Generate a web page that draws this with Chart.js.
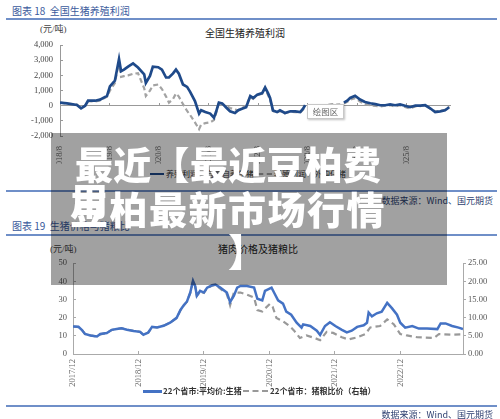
<!DOCTYPE html>
<html>
<head>
<meta charset="utf-8">
<script src="https://cdn.jsdelivr.net/npm/chart.js@4.4.1/dist/chart.umd.min.js"></script>
<style>
body{margin:0;width:500px;height:419px;background:#fff;position:relative;overflow:hidden;font-family:"Noto Sans CJK SC",sans-serif}
.abs{position:absolute;white-space:nowrap;line-height:1}
.hdr{left:12px;font-size:10px;color:#3a5a9c}
.rule{position:absolute;left:6px;width:491px;height:2px;background:#6f8fc8}
.src{right:7px;font-size:9px;color:#2d3f70}
.ttl{font-size:10px;color:#222}
.unit{font-family:"Liberation Serif","Noto Sans CJK SC",serif;font-size:9px;color:#444}
.leg{font-size:8px;color:#333}
canvas{position:absolute;left:0}
#cover{position:absolute;left:51px;top:133px;width:396px;height:152px;background:rgba(0,0,0,0.37)}
.big{position:absolute;white-space:nowrap;color:#fff;font-weight:900;font-size:38px;line-height:38px}
#box{position:absolute;left:307px;top:104px;width:35px;height:13px;background:#fff;border:1px solid #c8c8c8;box-shadow:1px 1px 2px rgba(0,0,0,0.25);font-size:8.5px;color:#666;text-align:center;line-height:13px}
</style>
</head>
<body>
<div class="abs hdr" style="top:6px">图表 18&nbsp; 全国生猪养殖利润</div>
<div class="rule" style="top:18px"></div>
<div class="abs ttl" style="left:205px;top:28px">全国生猪养殖利润</div>
<div class="abs unit" style="left:40px;top:25px">(元/吨)</div>
<canvas id="c1" width="500" height="134" style="top:30px"></canvas>
<div id="box">绘图区</div>
<div class="abs" style="left:150px;top:173px;width:14px;height:2px;background:#1f4a8a"></div>
<div class="abs leg" style="left:166px;top:170px">养殖利润：自繁自养生猪</div>
<div class="abs" style="left:258px;top:173px;width:14px;border-top:2px dashed #a3a3a3"></div>
<div class="abs leg" style="left:274px;top:170px">养殖利润：外购仔猪</div>
<div class="rule" style="top:190px"></div>
<div class="abs src" style="top:196px">数据来源：Wind、国元期货</div>

<div class="abs hdr" style="top:221px">图表 19&nbsp; 生猪价格与猪粮比</div>
<div class="rule" style="top:234px"></div>
<div class="abs ttl" style="left:218px;top:244px">猪肉价格及猪粮比</div>
<div class="abs unit" style="left:50px;top:245px">(元/吨)</div>
<canvas id="c2" width="500" height="143" style="top:249px"></canvas>
<div class="abs" style="left:143px;top:390px;width:19px;height:2.5px;background:#4472c4"></div>
<div class="abs leg" style="left:163px;top:387px;font-weight:700">22个省市:平均价:生猪</div>
<div class="abs" style="left:243px;top:390px;width:25px;border-top:2px dashed #999"></div>
<div class="abs leg" style="left:270px;top:387px;font-weight:700">22个省市：猪粮比价（右轴）</div>
<div class="rule" style="top:405px"></div>
<div class="abs src" style="top:410px">数据来源：Wind、国元期货</div>

<div id="cover">
  <div class="big" style="left:24px;top:11px;letter-spacing:0.3px">最近【最近豆柏费</div>
  <div class="big" style="left:19px;top:56px;letter-spacing:1.5px"><span style="position:relative">豆<span style="position:absolute;left:0;top:0">用</span></span>柏最新市场行情</div>
  <div class="big" style="left:177px;top:98px">】</div>
</div>

<script>
// 图表18：全国生猪养殖利润（元/吨），x 为自 2018/8 起的月数
const profitTicks = ['2018/8', '2019/8', '2020/8', '2021/8', '2022/8', '2023/8', '2024/8', '2025/8'];
const profitMonths = [0, 1.7, 4.1, 5.1, 6.1, 6.8, 8.5, 9.7, 11.4, 12.1, 13.3, 14.3, 14.8, 15.5, 16.5, 17.7, 18.9, 20.4, 20.8, 21.8,
  22.5, 23.8, 24.7, 25.7, 26.4, 27.4, 28.1, 28.8, 29.8, 30.8, 31.5, 32.7, 33.7, 34.2, 35.2, 36.4, 37.3, 37.8, 38.5, 39.3,
  40.2, 41.2, 42.4, 43.2, 44.1, 45.1, 46.1, 46.8, 47.8, 49.0, 49.7, 50.4, 50.9, 51.6, 52.6, 53.3, 54.5, 55.8, 57.0, 58.2,
  58.9, 59.4, 60.0, 65.0, 66.0, 67.0, 67.9, 68.4, 68.8, 69.6, 70.3, 71.5, 72.7, 73.9, 75.2, 76.4, 77.6, 78.8, 80.0, 81.2,
  82.4, 83.6, 84.8, 86.1, 87.3, 88.5, 89.7, 90.9, 92.1, 93.3, 94.3];
const profitSelfBred = [200, 150, 50, -170, 0, 330, 330, 400, 650, 1280, 1650, 3080, 2280, 2380, 2580, 2790, 2520, 2070, 1500, 1960,
  2580, 2540, 2380, 1860, 1860, 2130, 2380, 2110, 1400, 1240, 930, 310, -520, -300, -420, -520, -790, -420, 200, 150,
  -100, -370, -480, -300, -200, -100, 640, 510, 720, 830, 1200, 830, 510, -310, -420, -310, -480, -370, -370, -420,
  -200, 40, null, null, null, null, null, null, 200, 330, 510, 660, 410, 240, 160, 100, 30, 30, 80, 30,
  80, 0, -100, 0, 0, 30, -170, -420, -370, -300, -100];
const profitBought = [200, 130, 80, -150, 0, 300, 280, 350, 600, 1000, 1500, 2900, 1900, 1950, 2000, 2100, 2150, 1150, 640, 1000,
  1340, 1400, 1100, 600, 200, 450, 800, 600, 100, -350, -600, -1100, -1550, -1250, -1150, -1100, -950, -520, 250, 100,
  0, -150, -250, -300, -150, 0, 600, 450, 700, 780, 1150, 700, 400, -350, -450, -350, -500, -400, -420, -450,
  -250, 0, null, 60, 100, 80, 90, null, 150, 250, 400, 500, 280, 100, 20, -20, -50, 0, 30, -50,
  30, -80, -180, -50, -30, 50, -200, -380, -330, -280, -50];

// 图表19：生猪均价与猪粮比，x 为自 2017/12 起的月数
const priceTicks = ['2017/12', '2018/12', '2019/12', '2020/12', '2021/12', '2022/12'];
const priceMonths = [0, 1.0, 1.6, 2.2, 3.2, 4.4, 5.0, 6.2, 7.1, 8.0, 8.9, 9.9, 11.1, 12.3, 12.9, 13.8, 14.5, 15.4, 16.6, 17.8,
  19.0, 19.7, 20.3, 20.9, 21.5, 22.0, 22.4, 22.7, 23.3, 24.0, 24.6, 25.5, 26.1, 27.0, 28.2, 28.8, 29.5, 30.1, 30.7, 31.9,
  33.2, 33.8, 34.7, 35.2, 36.4, 37.0, 37.6, 38.5, 39.1, 40.0, 41.0, 41.9, 42.2, 43.5, 44.7, 45.3, 46.2, 47.1, 48.1, 49.3,
  50.2, 51.1, 52.1, 53.3, 53.9, 54.2, 54.8, 55.7, 56.6, 57.6, 58.5, 59.4, 60.0, 60.9, 62.2, 63.4, 64.9, 66.8, 67.4, 68.3,
  69.5, 70.7, 71.5];
const hogPrice = [15.1, 15.0, 13.3, 11.0, 10.2, 9.6, 11.0, 11.5, 13.3, 13.7, 14.1, 13.3, 12.7, 12.2, 10.6, 11.8, 15.0, 14.6, 15.5, 17.2,
  19.9, 24.2, 26.8, 28.9, 33.8, 40.3, 37.4, 32.1, 34.7, 33.8, 36.5, 37.8, 38.2, 36.5, 33.8, 28.6, 32.1, 36.5, 37.4, 37.4,
  36.5, 30.4, 29.5, 34.7, 36.5, 33.0, 29.5, 27.7, 23.3, 21.6, 17.2, 14.5, 16.3, 15.4, 12.8, 10.5, 15.4, 17.5, 15.4, 13.3,
  11.9, 12.8, 14.9, 15.8, 17.2, 22.8, 20.7, 22.4, 23.3, 28.1, 25.1, 21.6, 17.2, 14.5, 15.4, 14.0, 14.0, 13.7, 16.8, 16.8,
  15.4, 14.5, 13.7];
const ratioMonths = [0, 1.0, 1.6, 2.2, 3.2, 4.4, 5.0, 6.2, 7.1, 8.0, 8.9, 9.9, 11.1, 12.3, 12.9, 13.8, 14.5, 15.4, 16.6, 17.8,
  19.0, 19.7, 20.3, 20.9, 21.5, 22.0, 22.4, 22.7, 23.3, 24.0, 24.6, 25.5, 26.1, 27.0, 28.2, 28.8, 29.5, 30.1, 30.7, 31.9,
  33.2, 33.8, 34.7, 35.2, 36.1, 36.6, 37.3, 38.5, 39.7, 40.5, 41.6, 42.8, 44.3, 45.3, 46.5, 47.7, 49.3, 50.5, 52.1, 53.6,
  54.5, 56.3, 57.6, 58.8, 60.0, 61.2, 63.1, 66.2, 67.1, 69.2, 71.5];
const hogGrainRatio = [7.6, 7.4, 6.7, 5.5, 5.1, 4.8, 5.4, 5.8, 6.6, 6.9, 7.1, 6.7, 6.4, 6.1, 5.3, 5.9, 7.4, 7.3, 7.8, 8.6,
  9.9, 12.0, 13.3, 14.4, 16.8, 20.1, 18.6, 16.0, 17.2, 16.8, 18.1, 18.8, 19.0, 18.0, 16.5, 13.4, 16.9, 16.9, 16.9, 16.3,
  15.5, 12.1, 11.7, 12.5, 13.8, 13.0, 9.9, 9.0, 7.7, 6.5, 4.4, 5.1, 4.4, 3.8, 6.1, 5.8, 4.6, 4.0, 4.6, 5.5,
  7.3, 7.7, 9.5, 8.2, 5.5, 5.1, 4.6, 4.4, 5.5, 5.3, 5.4];

const serif = "'Liberation Serif', 'Noto Sans CJK SC', serif";
const pts = (xs, ys) => xs.map((x, i) => ({x: x, y: ys[i]}));
const yearTicks = labels => scale => { scale.ticks = labels.map((t, i) => ({value: i * 12})); };

new Chart(document.getElementById('c1'), {
    type: 'line',
    data: {
        datasets: [{
            label: '养殖利润：自繁自养生猪',
            data: pts(profitMonths, profitSelfBred),
            borderColor: '#1f4a8a',
            borderWidth: 2.7,
            pointRadius: 0,
            xAxisID: 'x'
        }, {
            label: '养殖利润：外购仔猪',
            data: pts(profitMonths, profitBought),
            borderColor: '#a3a3a3',
            borderWidth: 2.2,
            borderDash: [5, 3],
            pointRadius: 0,
            xAxisID: 'x'
        }]
    },
    options: {
        responsive: false,
        animation: false,
        layout: {padding: {top: 10, right: 50, left: 0, bottom: 0}},
        plugins: {legend: {display: false}, tooltip: {enabled: false}},
        scales: {
            x: {
                type: 'linear', min: 0, max: 94.5, position: 'bottom',
                afterBuildTicks: yearTicks(profitTicks),
                afterFit: s => { s.height = 28; },
                ticks: {callback: v => profitTicks[Math.round(v / 12)], autoSkip: false, maxRotation: 90, minRotation: 90,
                    font: {family: serif, size: 8.5}, color: '#666', padding: 2},
                grid: {display: false},
                border: {display: false}
            },
            x0: {
                type: 'linear', axis: 'x', min: 0, max: 94.5, position: {y: 0},
                afterBuildTicks: yearTicks(profitTicks),
                ticks: {display: false},
                grid: {drawOnChartArea: false, tickLength: -3, color: '#999'},
                border: {color: '#999'}
            },
            y: {
                min: -2000, max: 4000,
                afterFit: s => { s.width = 60; },
                ticks: {stepSize: 1000, callback: v => v.toLocaleString('en-US'), font: {family: serif, size: 8.5}, color: '#444', padding: 10},
                grid: {drawOnChartArea: false, tickLength: -3, color: '#999'},
                border: {color: '#999'}
            }
        }
    }
});

new Chart(document.getElementById('c2'), {
    type: 'line',
    data: {
        datasets: [{
            label: '22个省市:平均价:生猪',
            data: pts(priceMonths, hogPrice),
            borderColor: '#4472c4',
            borderWidth: 2.5,
            pointRadius: 0,
            yAxisID: 'y'
        }, {
            label: '22个省市：猪粮比价（右轴）',
            data: pts(ratioMonths, hogGrainRatio),
            borderColor: '#999',
            borderWidth: 2.2,
            borderDash: [6, 4],
            pointRadius: 0,
            yAxisID: 'y1'
        }]
    },
    options: {
        responsive: false,
        animation: false,
        layout: {padding: {top: 10, right: 0, left: 0, bottom: 0}},
        plugins: {legend: {display: false}, tooltip: {enabled: false}},
        scales: {
            x: {
                type: 'linear', min: 0, max: 71.5,
                afterBuildTicks: yearTicks(priceTicks),
                afterFit: s => { s.height = 38; },
                ticks: {callback: v => priceTicks[Math.round(v / 12)], autoSkip: false, maxRotation: 90, minRotation: 90,
                    font: {family: serif, size: 8.5}, color: '#666', padding: 8},
                grid: {drawOnChartArea: false, tickLength: -3, color: '#aaa'},
                border: {color: '#aaa'}
            },
            y: {
                position: 'left', min: 0, max: 50,
                afterFit: s => { s.width = 73; },
                ticks: {stepSize: 10, font: {family: serif, size: 8.5}, color: '#555', padding: 9},
                grid: {drawOnChartArea: false, tickLength: -3, color: '#aaa'},
                border: {color: '#aaa'}
            },
            y1: {
                position: 'right', min: 0, max: 25,
                afterFit: s => { s.width = 37; },
                ticks: {stepSize: 5, callback: v => v.toFixed(2), font: {family: serif, size: 8.5}, color: '#555', padding: 2},
                grid: {drawOnChartArea: false, tickLength: 3, color: '#aaa'},
                border: {color: '#aaa'}
            }
        }
    }
});
</script>
</body>
</html>
